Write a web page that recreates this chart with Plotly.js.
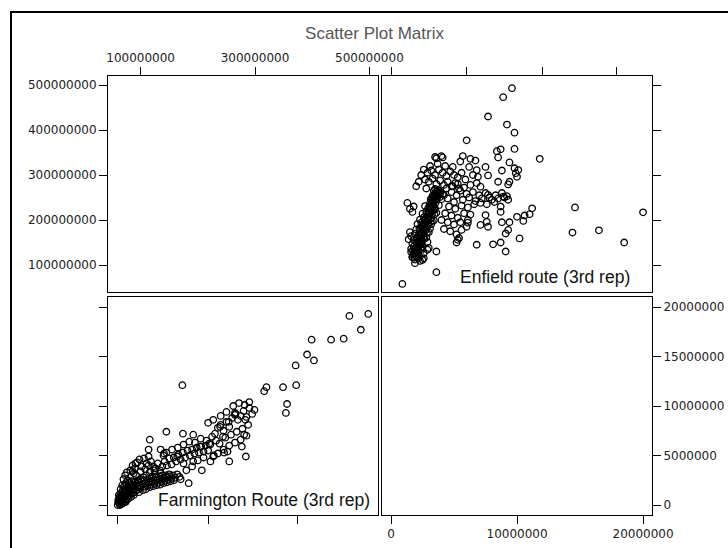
<!DOCTYPE html>
<html>
<head>
<meta charset="utf-8">
<script src="https://cdn.plot.ly/plotly-3.0.1.min.js"></script>
<style>html,body{margin:0;padding:0;background:#fff;}#chart{width:728px;height:548px;}</style>
</head>
<body>
<div id="chart"></div>
<script>
// Values in millions.
// Top-right panel: [Farmington (x), Enfield (y)]
const topRightPairs = [
[9.6,493],[8.9,473],[7.7,430],[9.2,412],[9.8,394],[6.0,377],[9.8,358],[8.7,357],[8.4,353],[11.8,336],[8.5,339],[9.4,328],[5.7,342],[6.3,336],[6.7,332],[3.6,337],[4.1,339],[7.5,318],[9.8,315],[10.1,311],[9.9,304],[10.0,296],[8.8,310],[9.4,285],[9.3,279],[8.5,285],[7.7,299],[14.6,228],[20.0,217],[11.2,226],[11.0,213],[10.6,210],[10.0,207],[10.5,198],[14.4,172],[16.5,177],[18.5,150],[10.2,159],[9.3,178],[9.1,170],[8.7,150],[8.1,146],[9.1,130],[6.8,145],[5.3,156],[5.2,150],[3.6,84],[0.9,58],[1.3,238],[1.7,218],[1.5,225],[1.8,230],[8.8,195],[9.4,195],[8.9,252],[9.2,253],[8.7,230],[8.7,218],[7.6,196],[7.7,185],[7.5,211],[7.1,189],[6.1,194],[6.1,200],[7.7,256],[7.1,274],[6.8,282],[6.9,296],[6.8,311],
[1.7,118],[1.85,126],[1.95,121],[2.05,131],[1.8,141],[2.15,136],[2.25,143],[2.0,151],[2.35,147],[2.1,159],[2.45,154],[2.2,166],[2.55,161],[2.6,171],[2.3,176],[2.75,177],[2.5,186],[2.85,183],[2.65,191],[2.95,189],[3.0,199],[2.7,201],[3.15,204],[2.9,211],[3.25,213],[3.0,217],[3.35,221],[3.1,227],[3.45,229],[3.2,234],[3.55,239],[3.3,243],[3.65,247],[3.4,251],[3.75,255],[3.5,257],[3.85,261],[3.6,263],[3.95,262],[3.7,267],
[1.6,129],[1.9,112],[2.2,119],[2.4,133],[2.05,161],[1.9,169],[2.25,181],[2.4,194],[2.6,206],[2.8,219],[3.05,231],[3.15,246],[3.3,254],[3.5,269],[2.5,141],[2.8,161],[3.0,173],[3.2,191],[3.4,199],[3.6,216],[3.8,233],[4.0,246],[2.9,151],[3.1,181],[3.5,224],[3.9,251],[4.1,257],[2.3,201],[2.5,214],[2.7,231],[2.1,191],[1.8,156],[1.7,147],[2.6,126],[2.9,134],[1.5,173],[1.4,157],[1.6,164],[2.0,179],[2.3,109],[2.5,111],[1.9,104],
[2.75,193],[2.95,208],[3.15,222],[3.35,236],[3.55,249],[2.55,180],[2.35,166],[2.15,150],[1.95,138],[1.75,131],[3.25,197],[3.45,212],[2.85,171],[2.65,158],[2.45,146],
[1.75,123],[2.0,127],[2.1,140],[2.3,152],[2.4,160],[2.45,170],[2.6,178],[2.7,187],[2.8,196],[2.9,203],[3.05,214],[3.2,224],[3.3,231],[3.4,240],[3.55,245],[3.65,255],[3.8,265],[3.45,258],[3.25,249],[3.1,238],[2.95,226],[2.8,213],[2.65,199],[2.5,189],[2.35,172],[2.25,158],[2.05,145],[1.9,132],[1.85,116],[2.15,125],
[1.7,117],[2.2,115],[2.6,115],[1.6,136],[2.0,137],[2.4,136],[3.0,138],[3.6,130],
[4.2,255],[4.5,248],[4.8,262],[5.0,240],[5.2,255],[5.5,265],[5.7,245],[6.0,258],[6.2,250],[6.5,262],[6.7,242],[7.0,255],[7.2,248],[7.5,260],[7.8,250],[8.0,245],[8.3,255],[8.5,248],[8.8,260],[9.0,250],[9.3,245],[4.4,270],[4.9,275],[5.3,280],[5.8,272],[6.3,278],[4.6,230],[5.1,225],[5.6,232],[6.1,228],[6.6,235],[7.1,238],[7.6,235],[8.2,240],[4.3,215],[4.8,210],[5.3,205],[5.8,215],[6.3,212],[4.0,200],[4.5,195],[5.0,190],[5.5,195],[6.0,185],[4.2,180],[4.7,175],[5.2,168],[5.4,160],[5.6,178],
[2.6,312],[2.9,305],[3.2,310],[3.5,300],[3.8,312],[4.1,305],[4.4,298],[4.7,308],[5.0,300],[5.3,295],[5.6,305],[5.9,290],[2.7,290],[3.0,285],[3.3,292],[3.6,280],[3.9,288],[4.2,278],[4.5,285],[4.8,275],[5.1,282],[5.4,270],[3.1,320],[3.7,325],[4.3,320],[2.8,270],[3.4,265],[2.4,300],[2.2,285],[2.0,275],[3.5,340],[4.0,342],[5.5,330],[6.2,318],[6.5,300],[4.9,318]
];

// Bottom-left panel: [Enfield (x), Farmington (y)]
const bottomLeftPairs = [
[465,19.1],[498,19.3],[485,17.7],[399,16.7],[433,16.7],[455,16.8],[391,15.2],[403,14.6],[371,14.1],[173,12.1],[320,11.9],[316,11.5],[349,11.9],[372,12.1],[356,10.2],[354,9.3],[299,9.6],[266,9.2],
[283,8.6],[265,9.1],[284,4.9],[277,5.9],[281,7.1],[254,8.4],[227,8.6],[218,8.3],[145,7.4],[116,6.6],[174,7.2],[192,7.1],[204,5.9],[239,7.9],[244,6.9],[255,4.4],[246,5.3],[227,4.9],[222,4.4],[207,3.5],[192,4.4],[175,4.2],[164,4.9],[141,5.2],[135,5.6],[114,5.6],[114,4.0],[91,4.2],[86,3.4],[184,2.2],
[60,0.0],[62,0.25],[64,0.1],[65,0.45],[67,0.3],[68,0.7],[70,0.5],[72,0.85],[73,0.4],[75,1.0],[76,0.7],[78,1.2],[80,0.95],[82,1.35],[84,1.15],[86,1.55],[88,1.25],[90,1.7],[92,1.45],[94,1.85],[96,1.6],[98,2.0],[100,1.75],[103,2.1],[106,1.85],[109,2.2],[112,1.95],[115,2.3],[118,2.05],[121,2.4],[124,2.15],[127,2.5],[130,2.25],[133,2.6],[136,2.35],[139,2.7],[142,2.45],[145,2.8],[148,2.55],[151,2.9],[154,2.65],[157,3.0],[160,2.75],[164,3.1],[168,2.85],
[63,0.8],[66,1.2],[69,1.5],[71,1.9],[74,2.2],[77,2.5],[62,1.0],[65,1.6],[68,2.0],[70,2.6],[73,3.0],[76,3.3],[80,1.6],[85,2.0],[90,2.3],[95,2.5],[100,2.6],[105,2.8],[110,3.0],[120,2.9],[125,3.1],[135,3.2],[61,0.5],[64,0.0],[67,0.1],[70,0.2],[74,0.3],[78,0.6],[83,0.8],[88,1.0],
[104,1.5],[116,1.8],[128,2.0],[140,2.2],[152,2.4],[97,1.3],[109,1.6],[122,1.9],[134,2.05],[146,2.3],[158,2.5],[170,2.6],
[61,0.3],[63,0.6],[66,0.9],[69,1.1],[72,1.3],[75,1.6],[78,1.8],[81,2.1],[84,2.4],[66,0.6],[70,0.9],[74,1.4],[79,1.5],[83,1.7],[87,1.9],[91,2.0],[93,2.2],[97,2.3],[102,2.4],[107,2.5],[113,2.6],[119,2.7],[126,2.8],[132,2.9],[138,3.0],[144,3.0],[150,3.1],[72,1.6],[76,2.0],[80,2.3],
[82,3.5],[86,4.0],[90,3.7],[94,4.3],[98,4.6],[102,3.9],[106,4.7],[110,4.2],[114,4.9],[118,4.4],[122,3.9],[126,3.7],[130,4.2],[134,3.5],[138,3.9],[142,4.4],[146,4.0],[150,4.7],[154,4.1],[158,4.8],[162,4.4],[166,5.1],[170,4.6],[174,5.3],[178,4.8],[182,5.5],[186,5.0],[190,5.6],[194,5.2],[198,5.8],[202,5.3],[206,5.9],[210,5.4],[214,6.0],[218,5.5],[222,6.1],
[88,3.2],[92,3.0],[100,3.4],[108,3.6],[116,3.3],[124,3.5],[140,5.0],[145,5.3],[155,5.6],[165,5.8],[175,6.1],[185,6.4],[195,6.3],[205,6.7],[215,6.5],[225,6.9],
[230,7.2],[235,7.8],[240,8.1],[245,7.5],[250,8.4],[255,7.9],[260,8.8],[265,9.3],[270,8.6],[275,9.0],[280,9.5],[285,8.9],[290,9.8],[232,6.5],[238,6.2],[248,6.8],[258,7.1],[268,7.4],[278,7.7],[288,8.1],[240,9.0],[250,9.4],[262,10.0],[272,10.3],[282,10.1],[290,10.4],[295,9.2],[235,5.2],[245,5.6],[255,6.0],[265,6.3],[275,6.6],[285,7.0],[220,6.2],[210,4.8],[200,4.5],[190,3.9],[180,3.5],[228,5.0],[252,5.4]
];

const enfieldTickVals = [100, 200, 300, 400, 500];
const enfieldTickText = ['100000000', '200000000', '300000000', '400000000', '500000000'];
const enfieldTopTickVals = [100, 300, 500];
const enfieldTopTickText = ['100000000', '300000000', '500000000'];
const farmTickVals = [0, 5, 10, 15, 20];
const farmTickText = ['0', '5000000', '10000000', '15000000', '20000000'];
const farmBottomTickVals = [0, 10, 20];
const farmBottomTickText = ['0', '10000000', '20000000'];
const farmTopMinorTicks = [0, 6, 12, 17.9];
const enfieldBottomMinorTicks = [60, 218, 375];

const titleText = 'Scatter Plot Matrix';
const enfieldLabel = 'Enfield route (3rd rep)';
const farmLabel = 'Farmington Route (3rd rep)';

const W = 728, H = 548;
const px = v => v / W;
const py = v => 1 - v / H;

const tickFont = {family: 'DejaVu Sans, Arial, sans-serif', size: 12, color: '#222'};
const marker = {symbol: 'circle-open', size: 6.5, color: '#000', line: {width: 1.3, color: '#000'}};

const traces = [
  {type: 'scatter', mode: 'markers', xaxis: 'x', yaxis: 'y', x: [null], y: [null], hoverinfo: 'skip'},
  {type: 'scatter', mode: 'markers', xaxis: 'x2', yaxis: 'y2',
   x: topRightPairs.map(p => p[0]), y: topRightPairs.map(p => p[1]), marker: marker, hoverinfo: 'skip'},
  {type: 'scatter', mode: 'markers', xaxis: 'x3', yaxis: 'y3',
   x: bottomLeftPairs.map(p => p[0]), y: bottomLeftPairs.map(p => p[1]), marker: marker, hoverinfo: 'skip'},
  {type: 'scatter', mode: 'markers', xaxis: 'x4', yaxis: 'y4', x: [null], y: [null], hoverinfo: 'skip'}
];

const baseAxis = {showgrid: false, zeroline: false, showline: true, linecolor: '#000', linewidth: 1,
  mirror: true, ticks: 'outside', ticklen: 8, tickcolor: '#000', tickwidth: 1, tickfont: tickFont,
  tickmode: 'array', fixedrange: true, autorange: false};

const colL = [px(108), px(378)], colR = [px(382), px(652)];
const rowT = [py(292), py(76)], rowB = [py(515), py(297)];
const enfRange = [43, 515], farmXRange = [-0.714, 20.71];
const enfYRange = [40, 520], farmYRange = [-1.01, 21.01];

const layout = {
  width: W, height: H, margin: {l: 0, r: 0, t: 0, b: 0},
  paper_bgcolor: '#fff', plot_bgcolor: '#fff', showlegend: false,
  title: {text: titleText, x: px(374.5), y: py(33), xanchor: 'center', yanchor: 'middle',
          font: {family: 'Liberation Sans, Arial, sans-serif', size: 17, color: '#555'}},
  xaxis: Object.assign({}, baseAxis, {domain: colL, range: enfRange, anchor: 'y', side: 'top',
          tickvals: enfieldTopTickVals, ticktext: enfieldTopTickText}),
  yaxis: Object.assign({}, baseAxis, {domain: rowT, range: enfYRange, anchor: 'x', side: 'left',
          tickvals: enfieldTickVals, ticktext: enfieldTickText}),
  xaxis2: Object.assign({}, baseAxis, {domain: colR, range: farmXRange, anchor: 'y2', side: 'top',
          tickvals: farmTopMinorTicks, showticklabels: false}),
  yaxis2: Object.assign({}, baseAxis, {domain: rowT, range: enfYRange, anchor: 'x2', side: 'right',
          tickvals: enfieldTickVals, showticklabels: false}),
  xaxis3: Object.assign({}, baseAxis, {domain: colL, range: enfRange, anchor: 'y3', side: 'bottom',
          tickvals: enfieldBottomMinorTicks, showticklabels: false}),
  yaxis3: Object.assign({}, baseAxis, {domain: rowB, range: farmYRange, anchor: 'x3', side: 'left',
          tickvals: farmTickVals, showticklabels: false}),
  xaxis4: Object.assign({}, baseAxis, {domain: colR, range: farmXRange, anchor: 'y4', side: 'bottom',
          tickvals: farmBottomTickVals, ticktext: farmBottomTickText}),
  yaxis4: Object.assign({}, baseAxis, {domain: rowB, range: farmYRange, anchor: 'x4', side: 'right',
          tickvals: farmTickVals, ticktext: farmTickText}),
  annotations: [
    {text: enfieldLabel, xref: 'paper', yref: 'paper', x: px(632), y: py(277), xanchor: 'right', yanchor: 'middle',
     showarrow: false, font: {family: 'Liberation Sans, Arial, sans-serif', size: 17.5, color: '#111'}},
    {text: farmLabel, xref: 'paper', yref: 'paper', x: px(372), y: py(500), xanchor: 'right', yanchor: 'middle',
     showarrow: false, font: {family: 'Liberation Sans, Arial, sans-serif', size: 17.5, color: '#111'}}
  ],
  shapes: [
    {type: 'line', xref: 'paper', yref: 'paper', x0: px(10), x1: 1, y0: py(12), y1: py(12), line: {color: '#000', width: 2}},
    {type: 'line', xref: 'paper', yref: 'paper', x0: px(11), x1: px(11), y0: py(11), y1: 0, line: {color: '#000', width: 2}}
  ]
};

Plotly.newPlot('chart', traces, layout, {displayModeBar: false, staticPlot: true});
</script>
</body>
</html>
